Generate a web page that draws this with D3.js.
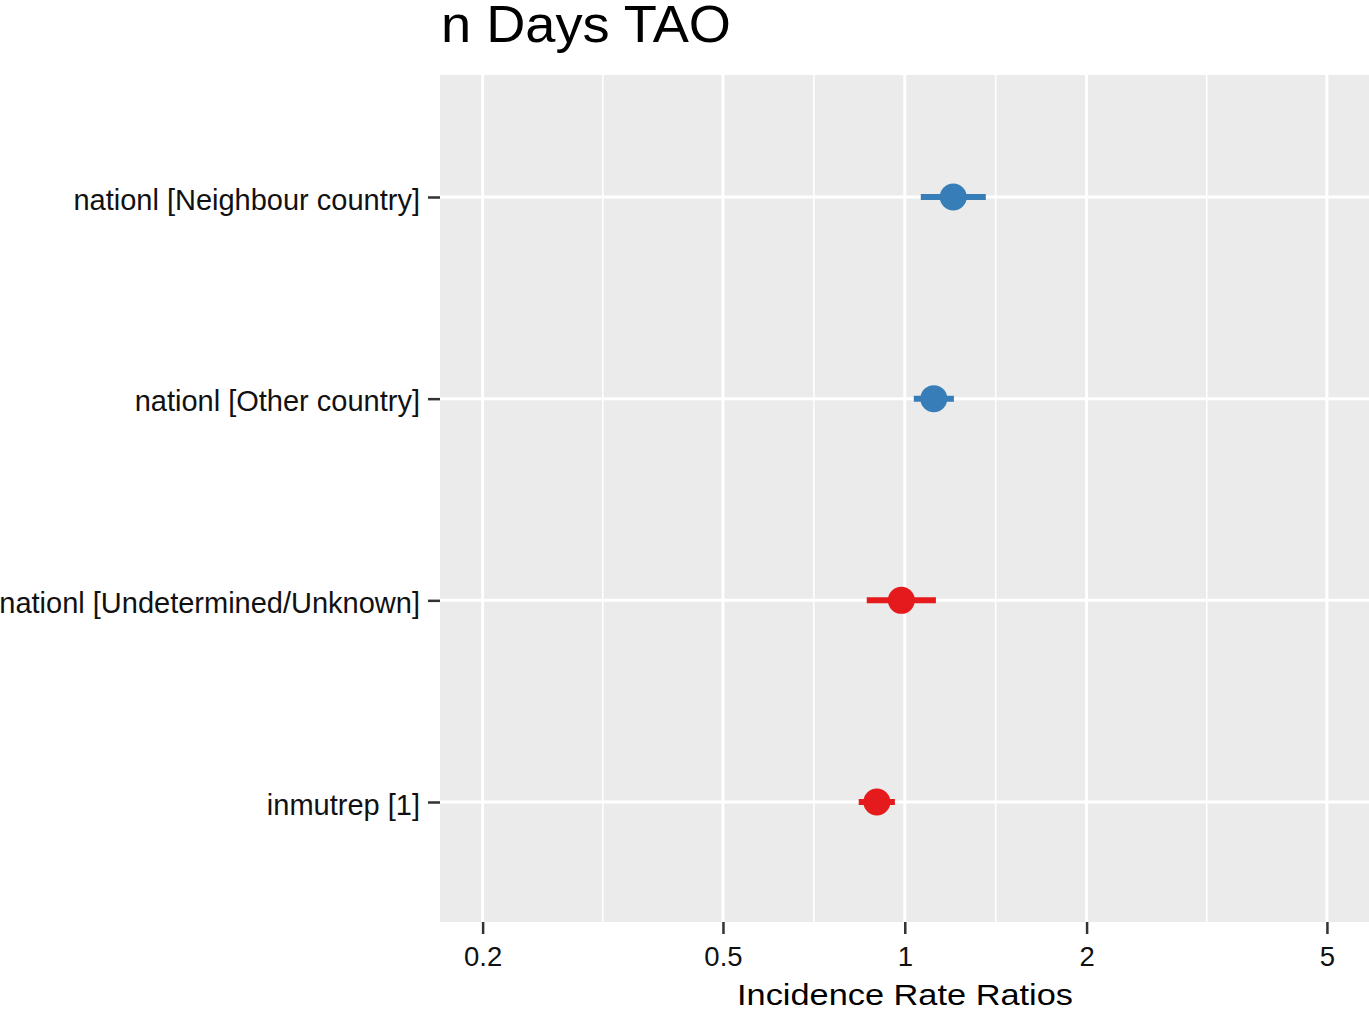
<!DOCTYPE html>
<html><head><meta charset="utf-8">
<script src="https://cdn.jsdelivr.net/npm/d3@7"></script>
<style>body{margin:0;background:#fff}svg{display:block}text{font-family:"Liberation Sans",Arial,Helvetica,sans-serif}</style>
</head><body><svg id="c" width="1369" height="1009"></svg>
<script>
const terms = ["nationl [Neighbour country]","nationl [Other country]","nationl [Undetermined/Unknown]","inmutrep [1]"];
const estimate = [1.203, 1.117, 0.987, 0.899];
const ciLow = [1.063, 1.035, 0.865, 0.839];
const ciHigh = [1.362, 1.206, 1.126, 0.963];
const direction = ["pos","pos","neg","neg"];
const xTicks = [0.2, 0.5, 1, 2, 5];
const xMinor = [Math.sqrt(0.1), Math.sqrt(0.5), Math.sqrt(2), Math.sqrt(10)];
const title = "n Days TAO";
const xTitle = "Incidence Rate Ratios";

const svg = d3.select("#c");
const L = 440, R = 1369, T = 75, B = 922;
const x = d3.scaleLog().domain([0.1700, 5.87]).range([L, R]);
const y = d3.scalePoint().domain(terms).range([197, 802]);
const color = d3.scaleOrdinal().domain(["pos","neg"]).range(["#377EB8","#E41A1C"]);

svg.append("rect").attr("x", L).attr("y", T).attr("width", R - L).attr("height", B - T).attr("fill", "#EBEBEB");
const g = svg.append("g");
g.selectAll(".minor").data(xMinor).join("line")
  .attr("x1", d => x(d)).attr("x2", d => x(d)).attr("y1", T).attr("y2", B)
  .attr("stroke", "#fff").attr("stroke-width", 1.5);
g.selectAll(".majx").data(xTicks).join("line")
  .attr("x1", d => x(d)).attr("x2", d => x(d)).attr("y1", T).attr("y2", B)
  .attr("stroke", "#fff").attr("stroke-width", 3);
g.selectAll(".majy").data(terms).join("line")
  .attr("x1", L).attr("x2", R).attr("y1", d => y(d)).attr("y2", d => y(d))
  .attr("stroke", "#fff").attr("stroke-width", 3);

const data = terms.map((t, i) => ({t, est: estimate[i], lo: ciLow[i], hi: ciHigh[i], dir: direction[i]}));
svg.selectAll(".ci").data(data).join("line")
  .attr("x1", d => x(d.lo)).attr("x2", d => x(d.hi))
  .attr("y1", d => y(d.t)).attr("y2", d => y(d.t))
  .attr("stroke", d => color(d.dir)).attr("stroke-width", 6);
svg.selectAll(".pt").data(data).join("circle")
  .attr("cx", d => x(d.est)).attr("cy", d => y(d.t)).attr("r", 13.5)
  .attr("fill", d => color(d.dir));

const xa = svg.append("g").attr("transform", `translate(0,${B})`)
  .call(d3.axisBottom(x).tickValues(xTicks).tickFormat(d3.format("~g")).tickSize(12).tickPadding(6));
xa.select(".domain").remove();
xa.selectAll(".tick line").attr("stroke", "#333").attr("stroke-width", 2.5);
xa.selectAll(".tick text").attr("fill", "#111").attr("font-size", 27.5)
  .attr("y", 44).attr("dy", null);

const ya = svg.append("g").attr("transform", `translate(${L},0)`)
  .call(d3.axisLeft(y).tickSize(12).tickPadding(8));
ya.select(".domain").remove();
ya.selectAll(".tick line").attr("stroke", "#333").attr("stroke-width", 2.5);
ya.selectAll(".tick text").attr("fill", "#111").attr("font-size", 29).attr("dy", null).attr("y", 12);

svg.append("text").attr("x", 737).attr("y", 1005)
  .attr("font-size", 30).attr("fill", "#000")
  .attr("textLength", 336).attr("lengthAdjust", "spacingAndGlyphs").text(xTitle);
svg.append("text").attr("x", 441).attr("y", 42).attr("font-size", 52).attr("fill", "#000")
  .attr("textLength", 290).attr("lengthAdjust", "spacingAndGlyphs").text(title);
</script></body></html>
